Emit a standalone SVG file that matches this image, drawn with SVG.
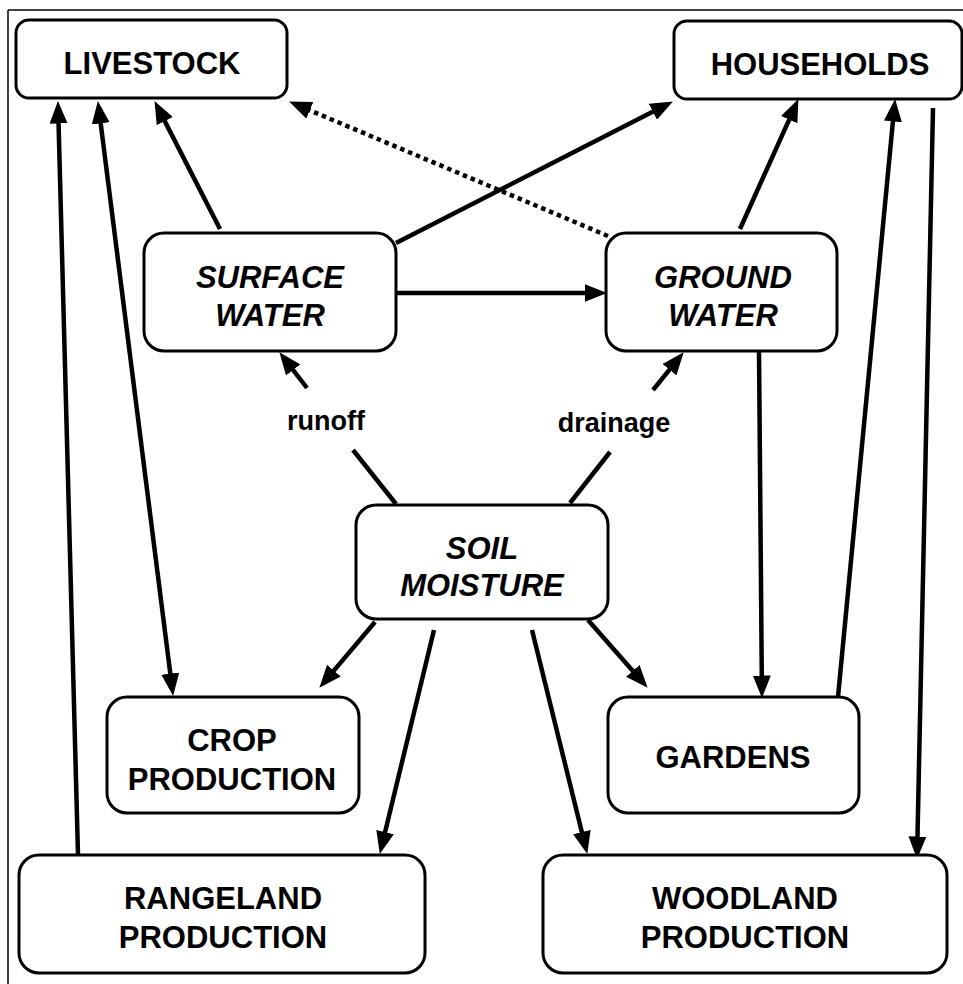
<svg xmlns="http://www.w3.org/2000/svg" width="963" height="984" viewBox="0 0 963 984">
<style>
.box{fill:#fff;stroke:#000;stroke-width:3}
.lbl{font-family:"Liberation Sans",Arial,sans-serif;font-weight:bold;font-size:31px;text-anchor:middle;fill:#000}
.it{font-style:italic}
.sm{font-family:"Liberation Sans",Arial,sans-serif;font-weight:bold;font-size:27px;text-anchor:middle;fill:#000}
.c{fill:none;stroke:#000;stroke-width:4.5}
.a{marker-end:url(#ah)}
.dot{stroke-dasharray:4.5 4}
</style>
<defs>
<marker id="ah" viewBox="0 0 10 8" refX="6" refY="4" markerWidth="5" markerHeight="4" orient="auto-start-reverse">
<path d="M0,0 L10,4 L0,8 z" fill="#000"/>
</marker>
</defs>
<rect width="963" height="984" fill="#fff"/>
<g id="frame" fill="none" stroke="#000" stroke-width="1.5">
<line x1="8" y1="10" x2="963" y2="10"/>
<line x1="8" y1="10" x2="8" y2="984"/>
</g>
<g id="connectors">
<path class="c a" d="M78,855 L58.2,110"/>
<path class="c a" d="M99,110 L172,687" marker-start="url(#ah)"/>
<path class="c a" d="M220,229 L158.6,109.1"/>
<path class="c a" d="M396,243 L664.9,105.6"/>
<path class="c a" d="M396,293 L598,293"/>
<path class="c a dot" d="M608,236 L297.4,105.1"/>
<path class="c a" d="M740,229 L794.7,107.3"/>
<path class="c a" d="M838,697 L894.2,108"/>
<path class="c a" d="M933,108 L917.2,850"/>
<path class="c a" d="M759,351 L761.9,689"/>
<path class="c" d="M396,504 L353,450"/>
<path class="c a" d="M307,388 L284.9,359.3"/>
<path class="c" d="M570,503 L610,452"/>
<path class="c a" d="M653,390 L678,359.2"/>
<path class="c a" d="M375,622 L325.2,680.9"/>
<path class="c a" d="M434,630 L381.9,845.2"/>
<path class="c a" d="M532,630 L585.1,845.2"/>
<path class="c a" d="M588,620 L641.7,681"/>
</g>
<g id="livestock">
<rect class="box" x="16" y="20" width="271" height="78" rx="13"/>
<text class="lbl" x="152" y="74">LIVESTOCK</text>
</g>
<g id="households">
<rect class="box" x="674" y="21" width="288" height="78" rx="13"/>
<text class="lbl" x="820" y="75">HOUSEHOLDS</text>
</g>
<g id="surface-water">
<rect class="box" x="144" y="233" width="252" height="118" rx="20"/>
<text class="lbl it" x="270" y="288">SURFACE</text>
<text class="lbl it" x="270" y="326">WATER</text>
</g>
<g id="ground-water">
<rect class="box" x="606" y="233" width="231" height="118" rx="20"/>
<text class="lbl it" x="723" y="288">GROUND</text>
<text class="lbl it" x="723" y="326">WATER</text>
</g>
<g id="runoff-label">
<text class="sm" x="326" y="430">runoff</text>
</g>
<g id="drainage-label">
<text class="sm" x="614" y="432">drainage</text>
</g>
<g id="soil-moisture">
<rect class="box" x="356" y="505" width="252" height="114" rx="20"/>
<text class="lbl it" x="482" y="559">SOIL</text>
<text class="lbl it" x="482" y="596">MOISTURE</text>
</g>
<g id="crop-production">
<rect class="box" x="107" y="697" width="252" height="116" rx="20"/>
<text class="lbl" x="232" y="751">CROP</text>
<text class="lbl" x="232" y="790">PRODUCTION</text>
</g>
<g id="gardens">
<rect class="box" x="608" y="697" width="251" height="116" rx="20"/>
<text class="lbl" x="733" y="768">GARDENS</text>
</g>
<g id="rangeland-production">
<rect class="box" x="19" y="855" width="406" height="118" rx="20"/>
<text class="lbl" x="223" y="909">RANGELAND</text>
<text class="lbl" x="223" y="948">PRODUCTION</text>
</g>
<g id="woodland-production">
<rect class="box" x="543" y="855" width="404" height="118" rx="20"/>
<text class="lbl" x="745" y="909">WOODLAND</text>
<text class="lbl" x="745" y="948">PRODUCTION</text>
</g>
</svg>
